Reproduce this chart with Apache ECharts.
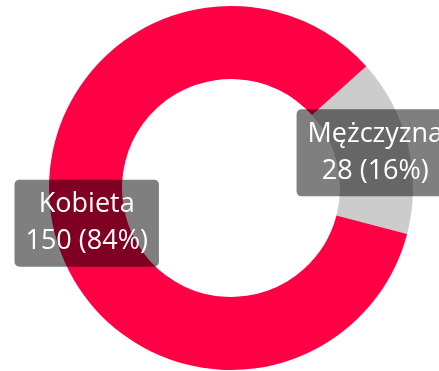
<!DOCTYPE html>
<html>
<head>
<meta charset="utf-8">
<script src="https://cdn.jsdelivr.net/npm/echarts@6/dist/echarts.min.js"></script>
<style>
  html, body { margin: 0; padding: 0; background: #fff; }
  #chart { width: 439px; height: 371px; }
</style>
</head>
<body>
<div id="chart"></div>
<script>
// Gender split of respondents
const categories = ['Mężczyzna', 'Kobieta'];
const counts = [28, 150];
const colors = ['#cccccc', '#ff0044'];

const total = counts.reduce((a, b) => a + b, 0);
const chart = echarts.init(document.getElementById('chart'), null, { renderer: 'canvas' });

chart.setOption({
  animation: false,
  series: [{
    type: 'pie',
    center: [231, 188],
    radius: [109, 182],
    startAngle: 42,
    clockwise: true,
    silent: true,
    data: categories.map((name, i) => ({
      name: name,
      value: counts[i],
      itemStyle: { color: colors[i] }
    })),
    label: {
      show: true,
      position: 'inside',
      color: '#ffffff',
      fontFamily: 'Open Sans',
      fontSize: 27,
      lineHeight: 37,
      backgroundColor: 'rgba(0,0,0,0.5)',
      borderRadius: 5,
      padding: [7, 11, 6, 11],
      formatter: p => p.name + '\n' + p.value + ' (' + Math.round(p.value / total * 100) + '%)'
    },
    labelLine: { show: false }
  }]
});
</script>
</body>
</html>
